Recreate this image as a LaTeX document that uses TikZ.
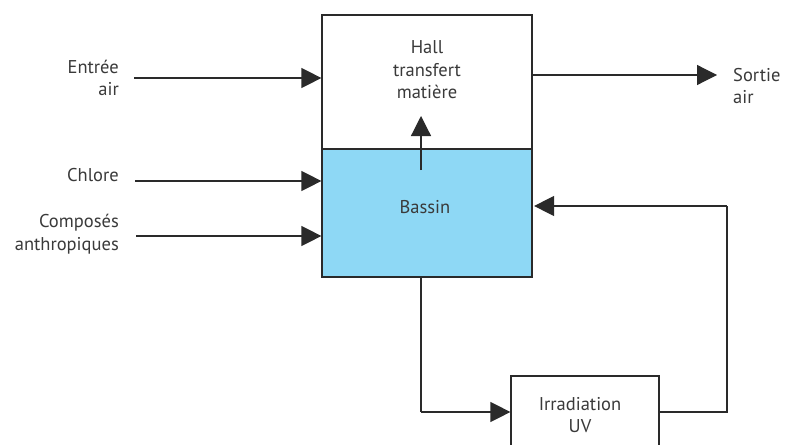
\documentclass[tikz,border=0pt]{standalone}
\usepackage{fontspec}
\setmainfont{PT Sans}
\usetikzlibrary{arrows.meta}
\definecolor{ink}{HTML}{2A2A2A}
\definecolor{txt}{HTML}{3A3A3A}
\definecolor{water}{HTML}{8ED8F5}
\tikzset{
  box/.style={draw=ink, line width=1.2pt, rectangle, inner sep=0pt},
  lbl/.style={text=txt, font=\fontsize{18.5}{22.5}\selectfont, inner sep=0pt},
  flow/.style={draw=ink, line width=1.2pt, -{Triangle[length=20pt,width=20pt]}},
  wire/.style={draw=ink, line width=1.2pt}
}
\begin{document}
\begin{tikzpicture}[x=1pt,y=-1pt]
\clip (0,0) rectangle (786,444);
\fill[white] (0,0) rectangle (786,444);
% boxes
\node[box, minimum width=210pt, minimum height=134pt] (hall) at (427,82) {};
\node[box, fill=water, minimum width=210pt, minimum height=128pt] (bassin) at (427,213) {};
\node[box, minimum width=148pt, minimum height=90pt] (irr) at (585,421) {};
% texts
\node[lbl, align=center] (thall) at (427,70) {Hall\\transfert\\matière};
\node[lbl] (tbassin) at (425,207) {Bassin};
\node[lbl, align=center] (tirr) at (580,415) {Irradiation\\UV};
\node[lbl, align=right, anchor=east] (lentree) at (119,78) {Entrée\\air};
\node[lbl, anchor=east] (lchlore) at (119,175) {Chlore};
\node[lbl, align=right, anchor=east] (lcomp) at (119,234) {Composés\\anthropiques};
\node[lbl, align=left, anchor=west] (lsortie) at (733,86) {Sortie\\air};
% free ends
\coordinate (e1) at (134,78);
\coordinate (c1) at (135,181);
\coordinate (p1) at (136,236);
\coordinate (s1) at (717,75);
\coordinate (up0) at (421,170);
\coordinate (up1) at (421,116);
\coordinate (d1) at (421,412);
\coordinate (r1) at (727,412);
\coordinate (r2) at (727,206);
% connectors
\draw[flow] (e1) -- (e1 -| hall.west);
\draw[flow] (c1) -- (c1 -| bassin.west);
\draw[flow] (p1) -- (p1 -| bassin.west);
\draw[flow] (s1 -| hall.east) -- (s1);
\draw[flow] (up0) -- (up1);
\draw[wire] (d1 |- bassin.south) -- (d1);
\draw[flow] (d1) -- (d1 -| irr.west);
\draw[wire] (r1 -| irr.east) -- (r1) -- (r2);
\draw[flow] (r2) -- ([xshift=1.5pt]r2 -| bassin.east);
\end{tikzpicture}
\end{document}
